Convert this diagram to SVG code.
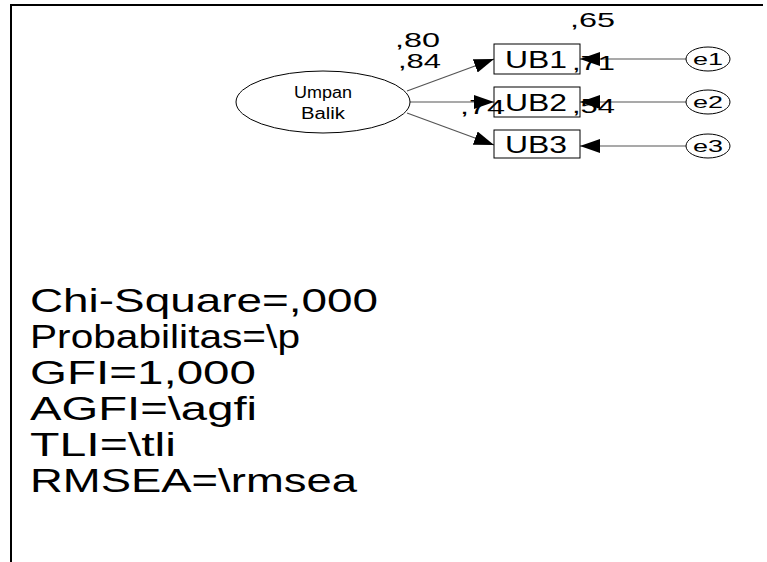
<svg xmlns="http://www.w3.org/2000/svg" width="767" height="562" viewBox="0 0 767 562">
  <style>
    text { font-family: "Liberation Sans", Arial, sans-serif; fill: #000; }
    .frame { stroke: #000; stroke-width: 2; fill: none; }
    .node { stroke: #000; stroke-width: 1; fill: #fff; }
    .path { stroke: #555; stroke-width: 1.2; fill: none; marker-end: url(#arrow); }
    .lbl { font-size: 16px; text-anchor: middle; }
    .err { font-size: 17px; text-anchor: middle; }
    .var { font-size: 24px; }
    .coef { font-size: 21px; }
    .fit { font-size: 33px; }
  </style>
  <defs>
    <marker id="arrow" viewBox="0 0 20 14" refX="20" refY="7" markerWidth="20" markerHeight="14" markerUnits="userSpaceOnUse" orient="auto">
      <path d="M0,0 L20,7 L0,14 Z" fill="#000"/>
    </marker>
  </defs>

  <!-- page frame -->
  <path class="frame" d="M11,562 V5 H763"/>

  <!-- connectors -->
  <g id="connectors">
    <line class="path" x1="407" y1="91" x2="494" y2="59"/>
    <line class="path" x1="410" y1="102" x2="494" y2="102"/>
    <line class="path" x1="407" y1="113" x2="494" y2="145"/>
    <line class="path" x1="686" y1="59" x2="580" y2="59"/>
    <line class="path" x1="686" y1="102" x2="580" y2="102"/>
    <line class="path" x1="686" y1="146" x2="580" y2="146"/>
  </g>

  <!-- latent variable -->
  <g id="umpan-balik">
    <ellipse class="node" cx="323" cy="102" rx="87" ry="31"/>
    <text class="lbl" x="323" y="98" textLength="58" lengthAdjust="spacingAndGlyphs">Umpan</text>
    <text class="lbl" x="323" y="119" textLength="44" lengthAdjust="spacingAndGlyphs">Balik</text>
  </g>

  <!-- observed indicators -->
  <g id="ub1">
    <rect class="node" x="494" y="44" width="86" height="30"/>
    <text class="var" x="505" y="68" textLength="62" lengthAdjust="spacingAndGlyphs">UB1</text>
  </g>
  <g id="ub2">
    <rect class="node" x="494" y="87" width="86" height="30"/>
    <text class="var" x="505" y="111" textLength="62" lengthAdjust="spacingAndGlyphs">UB2</text>
  </g>
  <g id="ub3">
    <rect class="node" x="494" y="130" width="86" height="28"/>
    <text class="var" x="505" y="153" textLength="62" lengthAdjust="spacingAndGlyphs">UB3</text>
  </g>

  <!-- error terms -->
  <g id="e1">
    <ellipse class="node" cx="708" cy="59" rx="22" ry="12"/>
    <text class="err" x="708" y="65" textLength="30" lengthAdjust="spacingAndGlyphs">e1</text>
  </g>
  <g id="e2">
    <ellipse class="node" cx="708" cy="102" rx="22" ry="12"/>
    <text class="err" x="708" y="108" textLength="30" lengthAdjust="spacingAndGlyphs">e2</text>
  </g>
  <g id="e3">
    <ellipse class="node" cx="708" cy="146" rx="22" ry="12"/>
    <text class="err" x="708" y="152" textLength="30" lengthAdjust="spacingAndGlyphs">e3</text>
  </g>

  <!-- estimates -->
  <g id="estimates">
    <text class="coef" x="395" y="47" textLength="45" lengthAdjust="spacingAndGlyphs">,80</text>
    <text class="coef" x="398" y="68" textLength="43" lengthAdjust="spacingAndGlyphs">,84</text>
    <text class="coef" x="460" y="114" textLength="45" lengthAdjust="spacingAndGlyphs">,74</text>
    <text class="coef" x="570" y="27" textLength="45" lengthAdjust="spacingAndGlyphs">,65</text>
    <text class="coef" x="572" y="70" textLength="43" lengthAdjust="spacingAndGlyphs">,71</text>
    <text class="coef" x="572" y="113" textLength="43" lengthAdjust="spacingAndGlyphs">,54</text>
  </g>

  <!-- fit statistics -->
  <g id="fit">
    <text class="fit" x="30" y="312" textLength="348" lengthAdjust="spacingAndGlyphs">Chi-Square=,000</text>
    <text class="fit" x="30" y="348" textLength="270" lengthAdjust="spacingAndGlyphs">Probabilitas=\p</text>
    <text class="fit" x="30" y="384" textLength="226" lengthAdjust="spacingAndGlyphs">GFI=1,000</text>
    <text class="fit" x="30" y="420" textLength="227" lengthAdjust="spacingAndGlyphs">AGFI=\agfi</text>
    <text class="fit" x="30" y="456" textLength="146" lengthAdjust="spacingAndGlyphs">TLI=\tli</text>
    <text class="fit" x="30" y="492" textLength="327" lengthAdjust="spacingAndGlyphs">RMSEA=\rmsea</text>
  </g>
</svg>
